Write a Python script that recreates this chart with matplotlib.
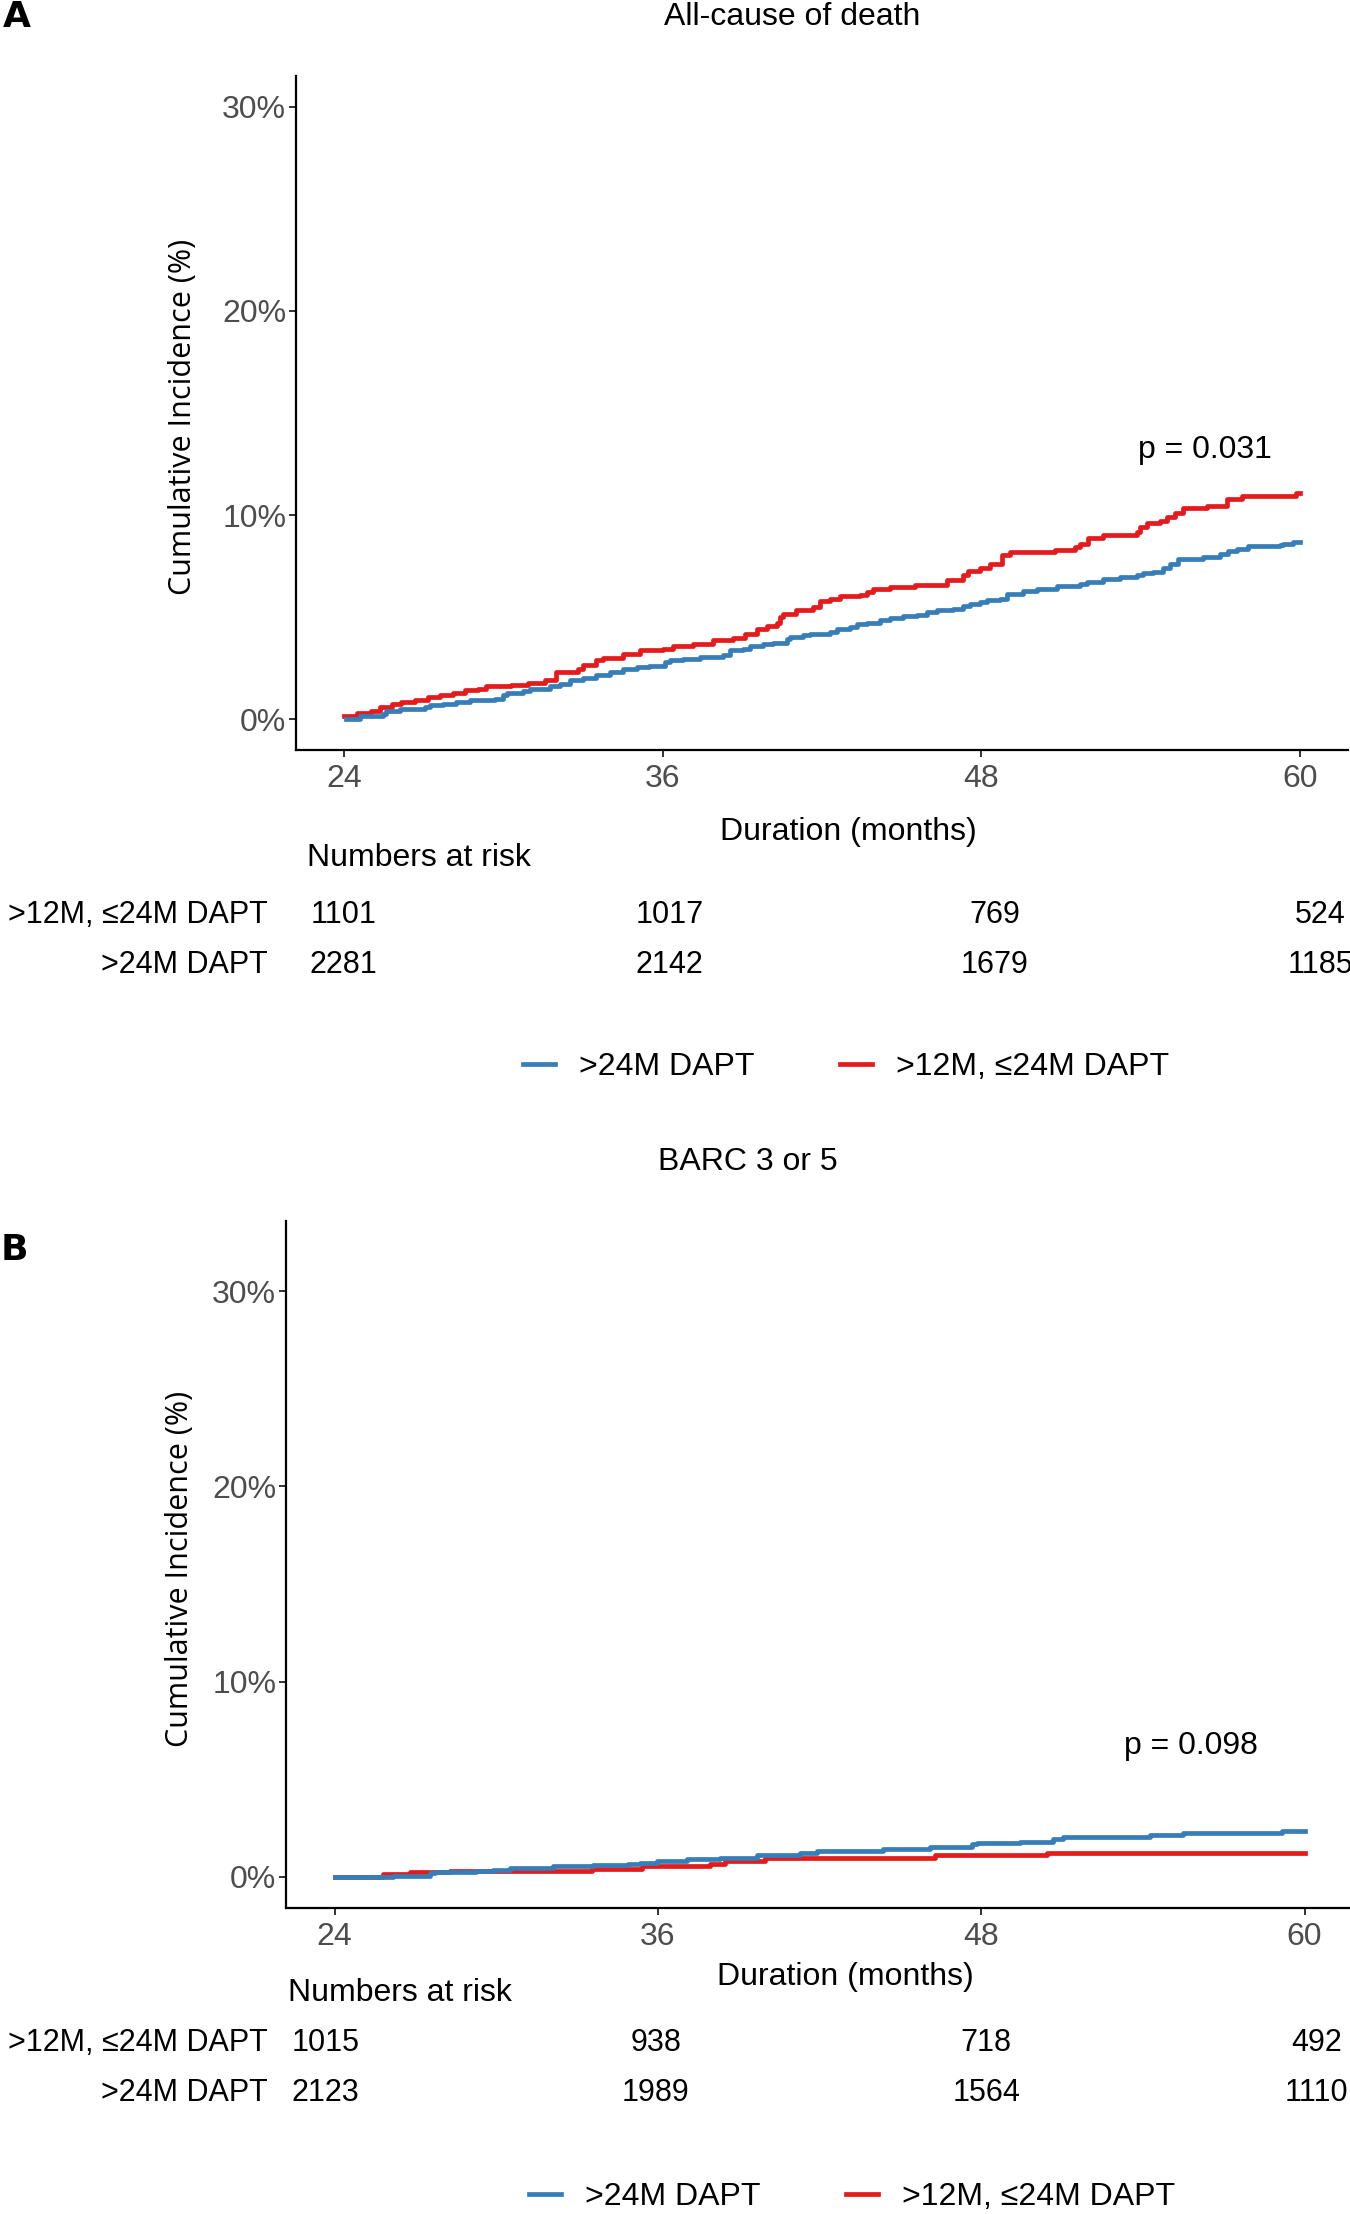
import matplotlib
matplotlib.use("Agg")
import matplotlib.pyplot as plt
from matplotlib.lines import Line2D

plt.rcParams['font.family'] = ['Liberation Sans', 'DejaVu Sans']

W, H = 1350, 2214

# colours (ggplot Set1)
RED = '#E41A1C'
BLUE = '#377EB8'
GREY = '#4D4D4D'

# --- panel A: all-cause of death (cumulative incidence, %) ---
a_red_t = [24.0, 24.48, 25.04, 25.36, 25.8, 26.17, 26.67, 27.17, 27.61, 28.12, 28.56, 29.06, 29.37,
           30.31, 30.94, 31.57, 32.0, 32.82, 33.01, 33.51, 33.76, 34.52, 35.14, 36.02, 36.4, 37.15,
           37.9, 38.66, 39.1, 39.54, 39.92, 40.29, 40.42, 40.54, 41.04, 41.67, 41.92, 42.3, 42.67,
           43.43, 43.68, 43.93, 44.56, 45.5, 46.69, 47.32, 47.5, 47.95, 48.32, 48.76, 49.08, 50.77,
           51.52, 51.71, 52.02, 52.59, 53.84, 53.97, 54.22, 54.72, 54.97, 55.29, 55.6, 56.48, 57.23,
           57.8, 59.85, 60.0]
a_red_y = [0.16, 0.31, 0.41, 0.60, 0.73, 0.85, 0.96, 1.09, 1.19, 1.29, 1.42, 1.50, 1.62,
           1.70, 1.78, 1.94, 2.32, 2.48, 2.65, 2.89, 3.02, 3.22, 3.38, 3.46, 3.59, 3.68,
           3.87, 4.00, 4.17, 4.44, 4.57, 4.72, 5.01, 5.18, 5.34, 5.50, 5.80, 5.91, 6.03,
           6.08, 6.24, 6.36, 6.46, 6.57, 6.81, 7.06, 7.27, 7.42, 7.63, 8.04, 8.20, 8.28,
           8.45, 8.61, 8.86, 9.02, 9.18, 9.43, 9.59, 9.72, 9.89, 10.11, 10.33, 10.44, 10.77,
           10.93, 11.06, 11.06]
a_blue_t = [24.1, 24.6, 25.48, 25.6, 26.11, 27.05, 27.24, 27.74, 28.24, 28.74, 29.69, 30.0, 30.13,
            30.75, 31.0, 31.76, 32.13, 32.51, 33.01, 33.51, 34.02, 34.52, 35.02, 35.5, 36.09, 36.27,
            36.78, 37.4, 38.28, 38.53, 39.03, 39.29, 39.79, 40.16, 40.67, 40.79, 41.29, 41.55, 42.3,
            42.55, 43.05, 43.31, 43.68, 44.19, 44.56, 45.06, 45.56, 45.94, 46.32, 46.94, 47.32, 47.57,
            47.95, 48.2, 48.7, 48.95, 49.58, 50.08, 50.83, 51.71, 51.96, 52.59, 53.21, 53.84, 54.1,
            54.47, 54.85, 55.1, 55.41, 56.35, 56.98, 57.29, 57.61, 58.05, 59.24, 59.36, 59.74, 60.0]
a_blue_y = [0.0, 0.15, 0.28, 0.41, 0.52, 0.60, 0.69, 0.77, 0.85, 0.93, 1.01, 1.18, 1.29,
            1.39, 1.50, 1.62, 1.75, 1.91, 2.04, 2.16, 2.32, 2.48, 2.56, 2.62, 2.81, 2.89,
            2.97, 3.05, 3.14, 3.38, 3.46, 3.59, 3.71, 3.76, 3.92, 4.04, 4.12, 4.20, 4.28,
            4.44, 4.52, 4.69, 4.72, 4.85, 4.98, 5.07, 5.13, 5.26, 5.37, 5.42, 5.54, 5.64,
            5.75, 5.86, 5.91, 6.16, 6.29, 6.40, 6.52, 6.62, 6.73, 6.85, 6.98, 7.06, 7.17,
            7.22, 7.39, 7.63, 7.87, 7.96, 8.09, 8.25, 8.36, 8.50, 8.53, 8.61, 8.66, 8.66]
a_risk_short = [1101, 1017, 769, 524]
a_risk_long = [2281, 2142, 1679, 1185]

# --- panel B: BARC 3 or 5 ---
b_red_t = [24.0, 25.8, 26.8, 28.3, 33.54, 35.4, 37.93, 38.49, 39.98, 46.29, 50.43, 60.0]
b_red_y = [0.0, 0.13, 0.22, 0.32, 0.42, 0.54, 0.68, 0.80, 0.94, 1.09, 1.22, 1.22]
b_blue_t = [24.0, 26.18, 27.54, 27.73, 29.27, 29.89, 30.51, 32.12, 33.6, 34.9, 35.34, 35.96, 37.07,
            38.31, 39.67, 41.28, 41.9, 44.37, 46.1, 47.65, 47.83, 49.44, 50.68, 51.05, 54.27, 55.5,
            59.16, 60.0]
b_blue_y = [0.0, 0.03, 0.17, 0.24, 0.29, 0.37, 0.46, 0.55, 0.62, 0.67, 0.72, 0.82, 0.89,
            0.97, 1.12, 1.20, 1.32, 1.44, 1.54, 1.66, 1.71, 1.79, 1.91, 2.03, 2.13, 2.26,
            2.37, 2.37]
b_risk_short = [1015, 938, 718, 492]
b_risk_long = [2123, 1989, 1564, 1110]

x_ticks = [24, 36, 48, 60]
y_ticks = [0, 10, 20, 30]
y_tick_labels = ['0%', '10%', '20%', '30%']
row_labels = ['>12M, \u226424M DAPT', '>24M DAPT']
legend_labels = ['>24M DAPT', '>12M, \u226424M DAPT']

FS = 23
TFS = 22
LW = 3.4


def px_axes(fig, left, top, right, bottom):
    return fig.add_axes([left / W, 1 - bottom / H, (right - left) / W, (bottom - top) / H])


def ftext(fig, x, y, s, **kw):
    return fig.text(x / W, 1 - y / H, s, **kw)


fig = plt.figure(figsize=(W / 100, H / 100), dpi=100)


def panel(box, ylim, red_t, red_y, blue_t, blue_y, ptxt, ppos):
    ax = px_axes(fig, *box)
    ax.step(red_t, red_y, where='post', color=RED, lw=LW)
    ax.step(blue_t, blue_y, where='post', color=BLUE, lw=LW)
    ax.set_xlim(22.2, 61.8)
    ax.set_ylim(*ylim)
    ax.set_xticks(x_ticks)
    ax.set_yticks(y_ticks)
    ax.set_yticklabels(y_tick_labels)
    for s in ['top', 'right']:
        ax.spines[s].set_visible(False)
    for s in ['left', 'bottom']:
        ax.spines[s].set_linewidth(1.6)
    ax.tick_params(axis='both', length=5, width=1.4, color='#333333',
                   labelsize=FS, labelcolor=GREY)
    ax.tick_params(axis='y', pad=2)
    ax.tick_params(axis='x', pad=5)
    ax.text(ppos[0], ppos[1], ptxt, fontsize=FS, ha='center', va='center')
    return ax


def risk_table(box, short, long_, lab_x):
    ax = px_axes(fig, *box)
    ax.set_xlim(22.2, 61.8)
    ax.set_ylim(-0.5, 1.5)
    ax.axis('off')
    for t, n in zip(x_ticks, short):
        ax.text(t, 1, str(n), fontsize=TFS, ha='center', va='center')
    for t, n in zip(x_ticks, long_):
        ax.text(t, 0, str(n), fontsize=TFS, ha='center', va='center')
    for i, lab in enumerate(row_labels):
        ax.text(lab_x, 1 - i, lab, transform=ax.get_yaxis_transform(), fontsize=TFS,
                ha='right', va='center')
    return ax


def legend(y, cx):
    handles = [Line2D([], [], color=BLUE, lw=LW), Line2D([], [], color=RED, lw=LW)]
    fig.legend(handles, legend_labels, ncol=2, loc='center', bbox_to_anchor=(cx / W, 1 - y / H),
               frameon=False, fontsize=FS, handlelength=1.0, handletextpad=0.75, columnspacing=2.7)


# ---------- A ----------
ftext(fig, 17, 17, 'A', fontsize=26, fontweight='bold', family='DejaVu Sans', ha='center', va='center')
ftext(fig, 792, 17, 'All-cause of death', fontsize=FS, ha='center', va='center')
panel((296, 76, 1348, 750), (-1.5, 31.5), a_red_t, a_red_y, a_blue_t, a_blue_y, 'p = 0.031', (56.4, 13.2))
ftext(fig, 183, 417, 'Cumulative Incidence (%)', fontsize=22, family='Open Sans', rotation=90,
      ha='center', va='center')
ftext(fig, 848, 832, 'Duration (months)', fontsize=FS, ha='center', va='center')
ftext(fig, 307, 858, 'Numbers at risk', fontsize=FS, ha='left', va='center')
risk_table((295, 890, 1369, 990), a_risk_short, a_risk_long, -0.025)
legend(1067, 846)

# ---------- B ----------
ftext(fig, 748, 1162, 'BARC 3 or 5', fontsize=FS, ha='center', va='center')
ftext(fig, 14, 1250, 'B', fontsize=26, fontweight='bold', family='DejaVu Sans', ha='center', va='center')
panel((286, 1221, 1353, 1908), (-1.6, 33.6), b_red_t, b_red_y, b_blue_t, b_blue_y, 'p = 0.098', (55.8, 6.7))
ftext(fig, 180, 1569, 'Cumulative Incidence (%)', fontsize=22, family='Open Sans', rotation=90,
      ha='center', va='center')
ftext(fig, 845, 1977, 'Duration (months)', fontsize=FS, ha='center', va='center')
ftext(fig, 288, 1993, 'Numbers at risk', fontsize=FS, ha='left', va='center')
risk_table((276, 2018, 1366, 2118), b_risk_short, b_risk_long, -0.008)
legend(2197, 852)

fig.savefig('out.png', dpi=100)
